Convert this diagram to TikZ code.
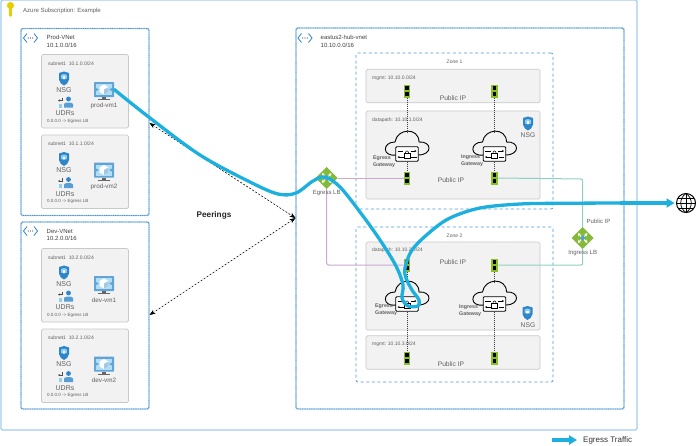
\documentclass[tikz,border=0pt]{standalone}
\usepackage{fontspec}
\setmainfont{Liberation Sans}
\usetikzlibrary{arrows.meta,calc}
\definecolor{outerblue}{HTML}{A3CDEE}
\definecolor{vnetblue}{HTML}{4A8FCB}
\definecolor{zoneblue}{HTML}{4F9CCF}
\definecolor{subfill}{HTML}{F2F2F2}
\definecolor{subline}{HTML}{C9C9C9}
\definecolor{txt}{HTML}{606060}
\definecolor{flow}{HTML}{1DB0DF}
\definecolor{lime}{HTML}{8CBF26}
\definecolor{lbgreen}{HTML}{84B93A}
\definecolor{purp}{HTML}{C9A9CF}
\definecolor{teal2}{HTML}{8FD0C4}
\definecolor{azure}{HTML}{2E86C8}
\definecolor{azurel}{HTML}{8FD0F0}
\tikzset{
  outerbox/.style={draw=outerblue,line width=1.3pt,rounded corners=1.5pt,fill=white},
  vnetbox/.style={draw=outerblue,line width=1.4pt,rounded corners=2pt,fill=white,postaction={draw=vnetblue,line width=.9pt,dash pattern=on .9pt off .9pt}},
  zonebox/.style={draw=zoneblue,line width=.7pt,dash pattern=on 3pt off 2.6pt,rounded corners=2pt},
  subnetbox/.style={draw=subline,line width=.7pt,fill=subfill,rounded corners=1.5pt},
  lbl/.style={text=txt,inner sep=0pt,font=\fontsize{6.7}{7}\selectfont},
  tiny/.style={text=txt,inner sep=0pt,anchor=west,font=\fontsize{5}{5.5}\selectfont},
  small/.style={text=black!75,inner sep=0pt,anchor=west,align=left,font=\fontsize{6}{7.4}\selectfont},
  gwlbl/.style={text=txt,inner sep=0pt,align=left,anchor=west,font=\bfseries\fontsize{5.3}{7}\selectfont},
  nicnode/.style={fill=lime,minimum width=6.5pt,minimum height=13pt,inner sep=0pt},
  vmnode/.style={fill=azure!75,minimum width=20pt,minimum height=15pt,inner sep=0pt,rounded corners=.5pt},
  dotline/.style={black!75,line width=.7pt,dash pattern=on 1pt off 1pt},
  peer/.style={black,line width=.55pt,dash pattern=on 2pt off 1.6pt,{Stealth[length=6pt,width=4.5pt]}-{Stealth[length=6pt,width=4.5pt]}},
  egress/.style={flow,line width=3.3pt,line cap=round,line join=round},
  purpline/.style={purp,line width=1pt,rounded corners=2pt},
  tealline/.style={teal2,line width=1pt,rounded corners=2pt},
}
\newcommand{\shieldIcon}[2]{%
  \fill[azure] (#1-5,#2-5.5) -- (#1,#2-7) -- (#1+5,#2-5.5) -- (#1+5,#2+1) .. controls (#1+5,#2+4) and (#1+2,#2+6) .. (#1,#2+7) .. controls (#1-2,#2+6) and (#1-5,#2+4) .. (#1-5,#2+1) -- cycle;
  \fill[azurel] (#1-2.8,#2-3.5) -- (#1,#2-4.5) -- (#1+2.8,#2-3.5) -- (#1+2.8,#2) -- (#1,#2+1) -- (#1-2.8,#2) -- cycle;
  \fill[white] (#1-1.2,#2-2.2) rectangle (#1+1.2,#2+.2);
}
\newcommand{\udrIcon}[2]{%
  \fill[azure] (#1+3.5,#2-3.5) circle (2.4);
  \fill[azure!80] (#1-1,#2+5) -- (#1-1,#2+1.5) .. controls (#1-1,#2-.5) and (#1+8,#2-.5) .. (#1+8,#2+1.5) -- (#1+8,#2+5) -- cycle;
  \fill[azurel] (#1-6.5,#2+1) rectangle (#1-3.5,#2+5);
  \draw[black!70,line width=.5pt,-{Stealth[length=2pt,width=2pt]}] (#1-3,#2-5) -- (#1-3,#2-2) -- (#1-7,#2-2);
}
\newcommand{\vmIcon}[3]{% name, x, y
  \node[vmnode] (#1) at (#2,#3) {};
  \fill[azurel!70!white] (#2-8,#3-5.5) rectangle (#2+8,#3+5.5);
  \fill[azure!75] (#2-8,#3-1.5) -- (#2-5,#3) -- (#2-8,#3+1.5) -- cycle (#2+8,#3-1.5) -- (#2+5,#3) -- (#2+8,#3+1.5) -- cycle;
  \fill[white] (#2,#3-5) -- (#2+4.5,#3-2.5) -- (#2+4.5,#3+2.5) -- (#2,#3+5) -- (#2-4.5,#3+2.5) -- (#2-4.5,#3-2.5) -- cycle;
  \fill[azure!45] (#2,#3) -- (#2+4.5,#3-2.5) -- (#2+4.5,#3+2.5) -- (#2,#3+5) -- cycle;
  \fill[black!60] (#2-2,#3+7.5) rectangle (#2+2,#3+9.5);
  \fill[black!60] (#2-6,#3+9.5) rectangle (#2+6,#3+10.5);
}
\newcommand{\vnetIcon}[2]{%
  \draw[azure,line width=.8pt] (#1-3.5,#2-4.5) -- (#1-7,#2) -- (#1-3.5,#2+4.5);
  \draw[azure,line width=.8pt] (#1+3.5,#2-4.5) -- (#1+7,#2) -- (#1+3.5,#2+4.5);
  \fill[black!70] (#1-2.2,#2) circle (.6) (#1,#2) circle (.6) (#1+2.2,#2) circle (.6);
}
\newcommand{\nicIcon}[3]{% name, x, y
  \node[nicnode] (#1) at (#2,#3) {};
  \fill[black] (#2-1.8,#3-5) rectangle (#2+1.8,#3-1.2);
  \fill[black] (#2-1.8,#3+1.2) rectangle (#2+1.8,#3+5);
}
\newcommand{\gateway}[3]{% name, x, y (box centre)
  \draw[black,line width=.9pt,fill=subfill] (#2-11,#3+1) .. controls (#2-25,#3+3) and (#2-25,#3-12) .. (#2-12,#3-12) .. controls (#2-10,#3-26) and (#2+12,#3-27) .. (#2+12,#3-12) .. controls (#2+25,#3-13) and (#2+26,#3+1) .. (#2+11,#3+1) -- cycle;
  \node[draw=black,line width=.9pt,fill=white,minimum width=22.5pt,minimum height=14.5pt,inner sep=0pt,rounded corners=1pt] (#1) at (#2,#3) {};
  \draw[black,line width=.6pt] (#2-3,#3-.5) rectangle (#2+3,#3+4);
  \draw[black,line width=.5pt] (#2-1.7,#3-.5) .. controls (#2-1.7,#3-4) and (#2+1.7,#3-4) .. (#2+1.7,#3-.5);
  \draw[black,line width=.5pt,-{Stealth[length=2pt,width=2pt]}] (#2+3.5,#3-3) -- (#2+9.5,#3-3);
  \draw[black,line width=.5pt] (#2-9.5,#3-3) -- (#2-4,#3-3);
  \draw[black,line width=.5pt,-{Stealth[length=2pt,width=2pt]}] (#2-3.5,#3+3) -- (#2-9.5,#3+3);
  \draw[black,line width=.5pt] (#2+9.5,#3+3) -- (#2+4,#3+3);
}
\newcommand{\lbIcon}[3]{% name, x, y
  \node[inner sep=0pt,minimum size=22pt] (#1) at (#2,#3) {};
  \fill[lbgreen] (#2-11,#3) -- (#2,#3-11) -- (#2+11,#3) -- (#2,#3+11) -- cycle;
  \foreach \ang in {45,135,225,315}
    \draw[white,line width=1pt,-{Stealth[length=3pt,width=3.5pt]}] ($(#2,#3)+(\ang:1.5)$) -- ($(#2,#3)+(\ang:6.8)$);
  \fill[azure!80] (#2,#3) circle (2.2);
}
\newcommand{\subnet}[5]{% box name, top, subnet text, vm name, vm label
  \node[subnetbox,minimum width=87pt,minimum height=73.5pt,inner sep=0pt] (#1) at (85,#2+36.75) {};
  \node[tiny] (#1t) at (48,#2+9) {#3};
  \shieldIcon{64}{#2+24}
  \node[lbl,font=\fontsize{7}{7}\selectfont] (#1n) at (64,#2+35.5) {NSG};
  \udrIcon{65}{#2+48}
  \node[lbl,font=\fontsize{7}{7}\selectfont] (#1u) at (65,#2+59) {UDRs};
  \node[tiny,font=\fontsize{4.5}{5}\selectfont] (#1r) at (47,#2+66.5) {0.0.0.0 -> Egress LB};
  \vmIcon{#4}{104}{#2+35}
  \node[lbl,font=\fontsize{6.3}{7}\selectfont] (#4l) at (104,#2+51.5) {#5};
}
\begin{document}
\begin{tikzpicture}[x=1pt,y=-1pt]
\useasboundingbox (0,0) rectangle (696,445);
\fill[white] (0,0) rectangle (696,445);
% subscription
\node[outerbox,minimum width=636pt,minimum height=430pt,inner sep=0pt] (sub) at (319,215) {};
\fill[orange!20!yellow!90!black] (10.5,5.5) circle (3.6);
\fill[orange!20!yellow!90!black] (9.3,8) rectangle (11.7,15.5);
\fill[orange!20!yellow!90!black] (10.5,17) -- (9.3,15) -- (11.7,15) -- cycle;
\node[small,font=\fontsize{6}{7}\selectfont,text=txt] (subt) at (23,10.5) {Azure Subscription: Example};
% vnets
\node[vnetbox,minimum width=128pt,minimum height=187pt,inner sep=0pt] (prod) at (85,122) {};
\node[vnetbox,minimum width=128pt,minimum height=187pt,inner sep=0pt] (dev) at (85,315.5) {};
\node[vnetbox,minimum width=328pt,minimum height=381pt,inner sep=0pt] (hub) at (460,218.5) {};
\vnetIcon{30.5}{38}
\vnetIcon{305}{38}
\vnetIcon{30.5}{231}
\node[small] (prodt) at (46.5,41.5) {Prod-VNet\\10.1.0.0/16};
\node[small] (devt) at (46.5,235) {Dev-VNet\\10.2.0.0/16};
\node[small] (hubt) at (320.5,41.5) {eastus2-hub-vnet\\10.10.0.0/16};
% subnets
\subnet{pa}{54.5}{subnet1\ \ 10.1.0.0/24}{pvma}{prod-vm1}
\subnet{pb}{135}{subnet1\ \ 10.1.1.0/24}{pvmb}{prod-vm2}
\subnet{da}{248.5}{subnet1\ \ 10.2.0.0/24}{dvma}{dev-vm1}
\subnet{db}{329}{subnet1\ \ 10.2.1.0/24}{dvmb}{dev-vm2}
% zones
\node[zonebox,minimum width=197pt,minimum height=156pt,inner sep=0pt] (zonea) at (454.5,131) {};
\node[zonebox,minimum width=197pt,minimum height=155pt,inner sep=0pt] (zoneb) at (454.5,304.5) {};
\node[tiny,anchor=center] (zat) at (454.5,62) {Zone 1};
\node[tiny,anchor=center] (zbt) at (454.5,235.5) {Zone 2};
\node[subnetbox,minimum width=174pt,minimum height=33.5pt,inner sep=0pt] (ma) at (453,86) {};
\node[subnetbox,minimum width=174pt,minimum height=88pt,inner sep=0pt] (dpa) at (453,155) {};
\node[subnetbox,minimum width=174pt,minimum height=88pt,inner sep=0pt] (dpb) at (453,286) {};
\node[subnetbox,minimum width=174pt,minimum height=33.5pt,inner sep=0pt] (mb) at (453,352.5) {};
\node[tiny] (mat) at (372,78.5) {mgmt: 10.10.0.0/24};
\node[tiny] (dpat) at (372,120.5) {datapath: 10.10.1.0/24};
\node[tiny] (dpbt) at (372,250.5) {datapath: 10.10.2.0/24};
\node[tiny] (mbt) at (372,344.5) {mgmt: 10.10.3.0/24};
% gateways and NICs
\gateway{gwa}{407}{154}
\gateway{gwb}{494.5}{154}
\gateway{gwc}{407}{304}
\gateway{gwd}{494.5}{304}
\nicIcon{na}{407}{91}
\nicIcon{nb}{494.5}{91}
\nicIcon{nc}{407}{178}
\nicIcon{nd}{494.5}{178}
\nicIcon{ne}{407}{265}
\nicIcon{nf}{494.5}{265}
\nicIcon{ng}{407}{358}
\nicIcon{nh}{494.5}{358}
\coordinate (ctopa) at (407,132);
\coordinate (ctopb) at (494.5,132);
\coordinate (ctopc) at (407,282);
\coordinate (ctopd) at (494.5,282);
\draw[dotline] (na) -- (ctopa);
\draw[dotline] (nb) -- (ctopb);
\draw[dotline] (gwa) -- (nc);
\draw[dotline] (gwb) -- (nd);
\draw[dotline] (ne) -- (ctopc);
\draw[dotline] (nf) -- (ctopd);
\draw[dotline] (gwc) -- (ng);
\draw[dotline] (gwd) -- (nh);
\node[gwlbl] (lga) at (373,162) {Egress\\Gateway};
\node[gwlbl] (lgb) at (461,161) {Ingress\\Gateway};
\node[gwlbl] (lgc) at (375,310) {Egress\\Gateway};
\node[gwlbl] (lgd) at (459,311) {Ingress\\Gateway};
\node[lbl] (pipa) at (453,98) {Public IP};
\node[lbl] (pipb) at (451,180) {Public IP};
\node[lbl] (pipc) at (453,262) {Public IP};
\node[lbl] (pipd) at (451,364.5) {Public IP};
\shieldIcon{528}{123.5}
\node[lbl] (nsga) at (528,135.5) {NSG};
\shieldIcon{527.5}{313}
\node[lbl] (nsgb) at (528,325.5) {NSG};
% load balancers and their links
\coordinate (ecorner) at (326.7,265);
\coordinate (icornera) at (582.7,179);
\coordinate (icornerb) at (582.7,265);
\lbIcon{elb}{326.7}{178}
\lbIcon{ilb}{582.7}{238}
\draw[purpline] (nc.west) -- (elb.east);
\draw[purpline] (elb.south) -- (ecorner) -- (ne.west);
\draw[tealline] (nd.east) -- (icornera) -- (ilb.north);
\draw[tealline] (ilb.south) -- (icornerb) -- (nf.east);
\node[lbl,font=\fontsize{6}{7}\selectfont] (elbt) at (326.7,193.5) {Egress LB};
\node[lbl,font=\fontsize{6}{7}\selectfont] (ilbt) at (582.7,253.5) {Ingress LB};
\node[lbl,font=\fontsize{6}{7}\selectfont] (ilbp) at (598.5,221.5) {Public IP};
% peerings
\coordinate (peerprod) at (149.5,123);
\coordinate (peerdev) at (149.5,315);
\coordinate (peerhub) at (295.5,218);
\draw[peer] (peerprod) -- (peerhub);
\draw[peer] (peerdev) -- (peerhub);
\node[inner sep=0pt,text=black!85,font=\bfseries\fontsize{8.2}{9}\selectfont] (peert) at (214,215) {Peerings};
% globe
\node[circle,draw=black,line width=1pt,minimum size=19pt,inner sep=0pt] (globe) at (686,203) {};
\draw[black,line width=.7pt] (676.5,203) -- (695.5,203) (678,198) -- (694,198) (678,208) -- (694,208) (686,193.5) -- (686,212.5);
\draw[black,line width=.7pt] (686,193.5) .. controls (679,198) and (679,208) .. (686,212.5);
\draw[black,line width=.7pt] (686,193.5) .. controls (693,198) and (693,208) .. (686,212.5);
% traffic
\draw[egress] plot[smooth,tension=.55] coordinates {(pvma.east) (150,118) (200,155) (250,182) (278,194) (296,193) (313,181) (325,177) (340,187) (360,212) (380,240) (396,266) (403,285) (402,298) (408,306) (418,306) (419,300) (412,290) (406,278) (405,268) (412,250) (430,232) (450,218) (480,208) (520,204) (560,203.3) (620,203)};
\coordinate (flowturn) at (620,203);
\draw[flow,line width=3.3pt,-{Triangle[length=8pt,width=9pt]},shorten >=1.5pt] (flowturn) -- (globe.west);
% legend
\coordinate (lega) at (552,440);
\node[inner sep=0pt,anchor=west,text=black!80,font=\fontsize{8}{9}\selectfont] (legt) at (583,440) {Egress Traffic};
\draw[flow,line width=3.3pt,-{Triangle[length=8pt,width=9pt]},shorten >=6pt] (lega) -- (legt.west);
\end{tikzpicture}
\end{document}
